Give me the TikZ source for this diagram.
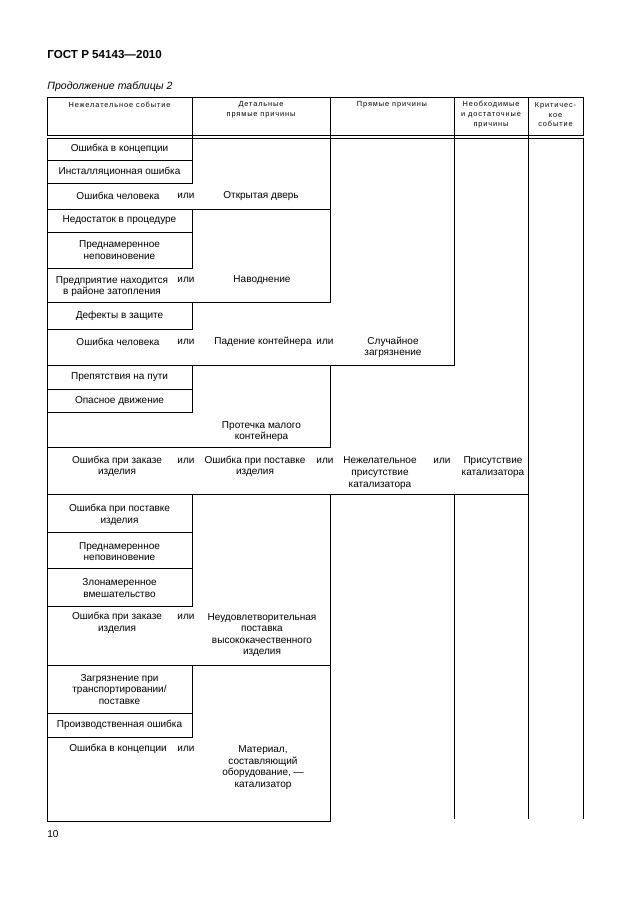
\documentclass[tikz,border=0pt]{standalone}
\usepackage{fontspec}
\setmainfont{Liberation Sans}
\newfontfamily\headfont[LetterSpace=12]{Liberation Sans}

\begin{document}
\begin{tikzpicture}[x=0.3333mm, y=-0.3333mm, line width=0.8pt,
    txt/.style={align=center, inner sep=0pt, font=\fontsize{9.5}{11}\selectfont},
    ili/.style={inner sep=0pt, font=\fontsize{9.5}{11}\selectfont},
    head/.style={align=center, inner sep=0pt, font=\headfont\fontsize{7}{9.2}\selectfont}]
    \useasboundingbox (0,0) rectangle (630,913);

    % page head
    \node [anchor=west, inner sep=0pt, font=\bfseries\fontsize{11}{13}\selectfont] (gost) at (47,55) {ГОСТ Р 54143—2010};
    \node [anchor=west, inner sep=0pt, font=\itshape\fontsize{10}{12}\selectfont] (cont) at (47,87) {Продолжение таблицы 2};

    % table head
    \draw (47,97) rectangle (583,135);
    \draw (47,138) -- (583,138);
    \foreach \x in {192,330,454,528}
        \draw (\x,97) -- (\x,138);
    \node [head] (h1) at (119.5,105) {Нежелательное событие};
    \node [head] (h2) at (261,110) {Детальные\\прямые причины};
    \node [head] (h3) at (392,105) {Прямые причины};
    \node [head] (h4) at (491,114.5) {Необходимые\\и достаточные\\причины};
    \node [head] (h5) at (555.5,114.5) {Критичес-\\кое\\событие};

    % cells
    \draw (47,138) rectangle (192,160);
    \draw (47,160) rectangle (192,183);
    \draw (47,138) rectangle (330,209);
    \draw (47,209) rectangle (192,232);
    \draw (47,232) rectangle (192,268);
    \draw (47,209) rectangle (330,302);
    \draw (47,302) rectangle (192,329);
    \draw (47,138) rectangle (454,365);
    \draw (47,365) rectangle (192,389);
    \draw (47,389) rectangle (192,412);
    \draw (47,365) rectangle (330,447);
    \draw (47,138) rectangle (528,494);
    \draw (47,494) rectangle (192,532);
    \draw (47,532) rectangle (192,568);
    \draw (47,568) rectangle (192,606);
    \draw (47,494) rectangle (330,665);
    \draw (47,665) rectangle (192,713);
    \draw (47,713) rectangle (192,737);
    \draw (47,665) rectangle (330,821);
    \draw (454,494) -- (454,819);
    \draw (528,494) -- (528,819);
    \draw (583,138) -- (583,819);

    % texts
    \node [txt] (k1) at (119.5,149) {Ошибка в концепции};
    \node [txt] (k2) at (119.5,171.5) {Инсталляционная ошибка};
    \node [txt] (k3) at (118,196) {Ошибка человека};
    \node [ili] (o3) at (186,196) {или};
    \node [txt] (d3) at (261,196) {Открытая дверь};
    \node [txt] (k4) at (119.5,220.5) {Недостаток в процедуре};
    \node [txt] (k5) at (119.5,250) {Преднамеренное\\неповиновение};
    \node [txt] (k6) at (112,286.5) {Предприятие находится\\в районе затопления};
    \node [ili] (o6) at (186,280) {или};
    \node [txt] (d6) at (262,280) {Наводнение};
    \node [txt] (k7) at (119.5,316) {Дефекты в защите};
    \node [txt] (k8) at (118,342) {Ошибка человека};
    \node [ili] (o8) at (186,342) {или};
    \node [txt] (d8) at (263,342) {Падение контейнера};
    \node [ili] (p8) at (325,342) {или};
    \node [txt] (s8) at (393,347.5) {Случайное\\загрязнение};
    \node [txt] (k9) at (119.5,377) {Препятствия на пути};
    \node [txt] (k10) at (119.5,400.5) {Опасное движение};
    \node [txt] (d11) at (261.5,431.5) {Протечка малого\\контейнера};
    \node [txt] (k12) at (117,466.5) {Ошибка при заказе\\изделия};
    \node [ili] (o12) at (186,461) {или};
    \node [txt] (d12) at (255,466.5) {Ошибка при поставке\\изделия};
    \node [ili] (p12) at (325,461) {или};
    \node [txt] (s12) at (380,473) {Нежелательное\\присутствие\\катализатора};
    \node [ili] (q12) at (442,461) {или};
    \node [txt] (n12) at (493,467) {Присутствие\\катализатора};
    \node [txt] (k13) at (119.5,515) {Ошибка при поставке\\изделия};
    \node [txt] (k14) at (119.5,551.7) {Преднамеренное\\неповиновение};
    \node [txt] (k15) at (119.5,588) {Злонамеренное\\вмешательство};
    \node [txt] (k16) at (117,623) {Ошибка при заказе\\изделия};
    \node [ili] (o16) at (186,617.3) {или};
    \node [txt] (d16) at (262,635) {Неудовлетворительная\\поставка\\высококачественного\\изделия};
    \node [txt] (k17) at (119.5,689.3) {Загрязнение при\\транспортировании/\\поставке};
    \node [txt] (k18) at (119.5,725) {Производственная ошибка};
    \node [txt] (k19) at (118,749.3) {Ошибка в концепции};
    \node [ili] (o19) at (186,749.3) {или};
    \node [txt] (d19) at (263,767.7) {Материал,\\составляющий\\оборудование, —\\катализатор};

    % page number
    \node [anchor=west, inner sep=0pt, font=\fontsize{9.5}{11}\selectfont] (page) at (47,834) {10};
\end{tikzpicture}
\end{document}
